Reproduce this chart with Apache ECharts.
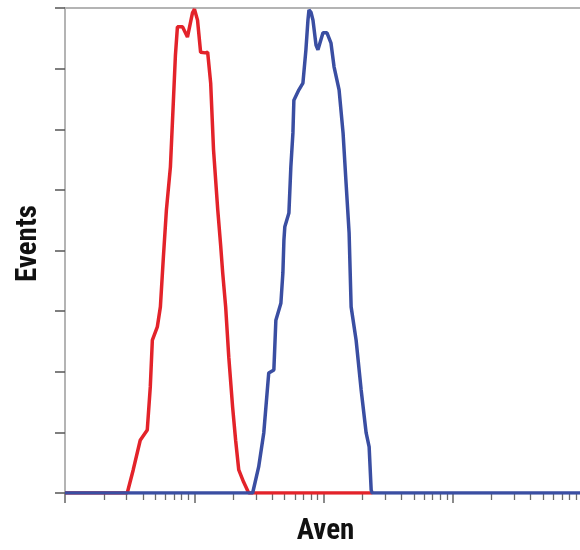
<!DOCTYPE html>
<html>
<head>
<meta charset="utf-8">
<script src="https://cdn.jsdelivr.net/npm/echarts@6/dist/echarts.min.js"></script>
<style>html,body{margin:0;padding:0;background:#fff}#c{width:580px;height:550px}</style>
</head>
<body>
<div id="c"></div>
<script>
// Fluorescence intensity (log scale), events count
const redX = [1, 3.03, 3.37, 3.82, 4.33, 4.57, 4.74, 5.18, 5.47, 5.77, 6.09, 6.54, 6.90, 7.15, 7.41, 8.11, 8.86, 9.69, 10.04, 10.6, 11.2, 12.2, 12.7, 13.4, 14.1, 15.2, 16.0, 16.6, 17.5, 18.5, 19.8, 20.9, 22.1, 24.1, 26.4, 238];
const redY = [0, 0, 38, 87, 104, 175, 252, 274, 307, 389, 467, 538, 648, 722, 769, 769, 752, 792, 798, 780, 727, 726, 727, 676, 566, 467, 409, 363, 307, 224, 142, 87, 38, 18, 0, 0];
const blueX = [1, 28.3, 31.5, 34.5, 37.7, 41.3, 42.8, 46.8, 48.5, 49.4, 50.2, 54.0, 55.9, 58.0, 59.0, 64.5, 69.3, 73.1, 75.8, 77.2, 80.0, 82.9, 87.5, 90.6, 99.1, 106.4, 114.3, 120.7, 132, 141.7, 149.5, 157.8, 163.6, 178.8, 195.6, 213.8, 225.5, 233.8, 238, 10000];
const blueY = [0, 0, 43, 99, 198, 203, 285, 313, 363, 417, 439, 462, 538, 594, 648, 665, 676, 731, 780, 797, 793, 780, 739, 731, 759, 759, 742, 703, 665, 594, 511, 429, 307, 252, 170, 99, 76, 5, 0, 0];
const majorTicks = [1, 10, 100, 1000, 10000];
const minorTicks = [2,3,4,5,6,7,8,9, 20,30,40,50,60,70,80,90, 200,300,400,500,600,700,800,900, 2000,3000,4000,5000,6000,7000,8000,9000];
const xName = 'Aven';
const yName = 'Events';

const pair = (xs, ys) => xs.map((x, i) => [x, ys[i]]);
const font = "'Liberation Sans Narrow', 'Roboto Condensed', 'Noto Sans ExtraCondensed', 'Noto Sans Condensed', Roboto, sans-serif";

const chart = echarts.init(document.getElementById('c'), null, {renderer: 'canvas'});
chart.setOption({
  animation: false,
  grid: {left: 65, top: 8, right: -2, bottom: 57, show: true, borderColor: '#b4b4b4', borderWidth: 2, containLabel: false, outerBoundsMode: 'none'},
  xAxis: [{
    type: 'log', logBase: 10, min: 1, max: 10000,
    name: xName, nameLocation: 'middle', nameGap: 24,
    nameTextStyle: {fontFamily: font, fontWeight: 'bold', fontSize: 29, color: '#111', padding: [0, 0, 0, 4]},
    axisLine: {show: true, lineStyle: {color: '#b4b4b4', width: 2}},
    axisTick: {show: true, length: 10, customValues: majorTicks, lineStyle: {color: '#666', width: 1.5}},
    axisLabel: {show: false},
    splitLine: {show: false}
  }, {
    type: 'log', logBase: 10, min: 1, max: 10000, position: 'bottom',
    axisLine: {show: false},
    axisTick: {show: true, length: 7, customValues: minorTicks, lineStyle: {color: '#6a6a6a', width: 1.3}},
    axisLabel: {show: false},
    splitLine: {show: false}
  }],
  yAxis: {
    type: 'value', min: 0, max: 800, interval: 100,
    name: yName, nameLocation: 'middle', nameGap: 22, nameRotate: 90,
    nameTextStyle: {fontFamily: font, fontWeight: 'bold', fontSize: 29, color: '#111', padding: [0, 0, 0, 14]},
    axisLine: {show: true, lineStyle: {color: '#b4b4b4', width: 2}},
    axisTick: {show: true, length: 10, lineStyle: {color: '#555', width: 1.5}},
    axisLabel: {show: false},
    splitLine: {show: false}
  },
  series: [{
    type: 'line', xAxisIndex: 0, data: pair(redX, redY), showSymbol: false, z: 2,
    lineStyle: {color: '#e3232a', width: 3.5}
  }, {
    type: 'line', xAxisIndex: 0, data: pair(blueX, blueY), showSymbol: false, z: 3,
    lineStyle: {color: '#3a4ea2', width: 3.5}
  }]
});
</script>
</body>
</html>
